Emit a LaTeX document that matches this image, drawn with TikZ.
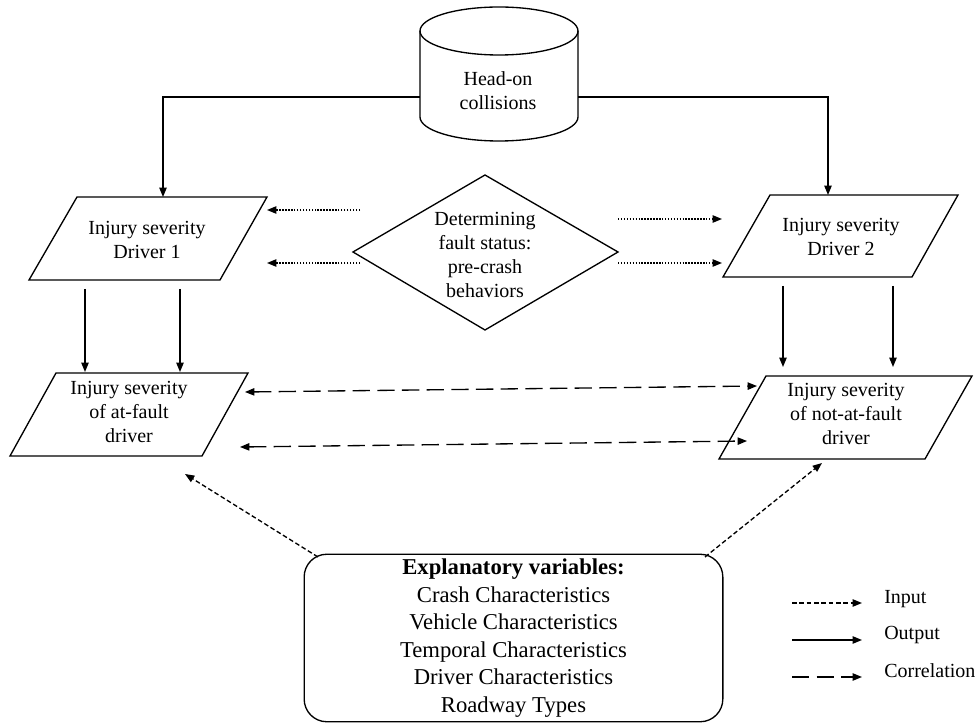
\documentclass[tikz,border=0pt]{standalone}
\usepackage{fontspec}
\setmainfont{Liberation Serif}
\usetikzlibrary{arrows.meta, positioning, shapes}
\tikzset{
	txt/.style={
		align=center,
		inner sep=0pt,
		font=\fontsize{15}{18}\selectfont
	},
	box/.style={
		draw,
		line width=1pt
	},
	outarr/.style={
		line width=1pt,
		-{Triangle[length=7pt,width=5.5pt]}
	},
	inarr/.style={
		line width=1pt,
		dash pattern=on 3.5pt off 2pt,
		-{Triangle[length=7pt,width=5.5pt]}
	},
	dotarr/.style={
		line width=1pt,
		dash pattern=on 1.1pt off 1.1pt,
		-{Triangle[length=7pt,width=5.5pt]}
	},
	corarr/.style={
		line width=1pt,
		dash pattern=on 13pt off 5.5pt,
		{Triangle[length=7pt,width=5.5pt]}-{Triangle[length=7pt,width=5.5pt]}
	}
}

\begin{document}
\begin{tikzpicture}[x=0.75pt, y=-0.75pt]
		\useasboundingbox (0,0) rectangle (979,723);
		% database
		\draw[box] (420,31) -- (420,117) arc[start angle=180, end angle=360, x radius=59.25pt, y radius=18pt] -- (578,31);
		\draw[box] (499,31) ellipse [x radius=59.25pt, y radius=18pt];
		\node[txt] (hoc) at (498,91) {Head-on\\collisions};
		
		% outlines
		\draw[box] (77,197) -- (267,197) -- (220,280) -- (29,280) -- cycle;
		\draw[box] (770,195) -- (958,195) -- (912,277) -- (723,277) -- cycle;
		\draw[box] (485,175) -- (618,252) -- (485,330) -- (353,252) -- cycle;
		\draw[box] (56,373) -- (248,373) -- (202,456) -- (10,456) -- cycle;
		\draw[box] (766,376) -- (972,376) -- (925,459) -- (719,459) -- cycle;
		
		\node[txt] (drvA) at (147,240) {Injury severity\\Driver 1};
		\node[txt] (drvB) at (841,237) {Injury severity\\Driver 2};
		\node[txt] (fault) at (485,255) {Determining\\fault status:\\pre-crash\\behaviors};
		\node[txt] (atf) at (129,412) {Injury severity\\of at-fault\\driver};
		\node[txt] (naf) at (846,414) {Injury severity\\of not-at-fault\\driver};
		\node[box, rounded corners=17pt, minimum width=314pt, minimum height=123pt, align=center,
			font=\fontsize{17}{20.7}\selectfont] (expl) at (513.5,638)
			{\textbf{Explanatory variables:}\\Crash Characteristics\\Vehicle Characteristics\\Temporal Characteristics\\Driver Characteristics\\Roadway Types};
		
		% connector ends
		\coordinate (hocL) at (420,97);
		\coordinate (hocR) at (578,97);
		\coordinate (drvAtop) at (163,197);
		\coordinate (drvBtop) at (828,195);
		\draw[outarr] (hocL) -| (drvAtop);
		\draw[outarr] (hocR) -| (drvBtop);
		
		\coordinate (fA1) at (360,210);
		\coordinate (fA2) at (360,263);
		\coordinate (dA1) at (267,210);
		\coordinate (dA2) at (267,263);
		\coordinate (fB1) at (618,219);
		\coordinate (fB2) at (618,263);
		\coordinate (dB1) at (722,219);
		\coordinate (dB2) at (722,263);
		\draw[dotarr] (fA1) -- (dA1);
		\draw[dotarr] (fA2) -- (dA2);
		\draw[dotarr] (fB1) -- (dB1);
		\draw[dotarr] (fB2) -- (dB2);
		
		\foreach \x in {85,180} \draw[outarr] (\x,289) -- (\x,372);
		\foreach \x in {783,893} \draw[outarr] (\x,286) -- (\x,367);
		
		\coordinate (atf1) at (245,392);
		\coordinate (naf1) at (757,386);
		\coordinate (atf2) at (240,447);
		\coordinate (naf2) at (747,441);
		\draw[corarr] (atf1) -- (naf1);
		\draw[corarr] (atf2) -- (naf2);
		
		\coordinate (explL) at (318,557);
		\coordinate (explR) at (705,557);
		\coordinate (atfin) at (185,474);
		\coordinate (nafin) at (822,463);
		\draw[inarr] (explL) -- (atfin);
		\draw[inarr] (explR) -- (nafin);
		
		% legend
		\draw[inarr] (792,603) -- (862,603);
		\draw[outarr] (792,640) -- (862,640);
		\draw[corarr, -{Triangle[length=7pt,width=5.5pt]}] (792,677) -- (862,677);
		\node[txt, anchor=west] (lgIn) at (884,599) {Input};
		\node[txt, anchor=west] (lgOut) at (884,635) {Output};
		\node[txt, anchor=west] (lgCor) at (884,671) {Correlation};
\end{tikzpicture}
\end{document}
